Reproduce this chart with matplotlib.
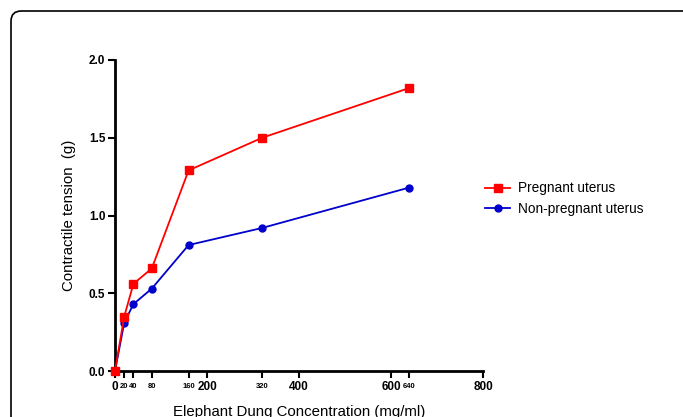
import matplotlib
matplotlib.use("Agg")
import matplotlib.pyplot as plt
from matplotlib.patches import FancyBboxPatch

plt.rcParams['font.family'] = ['Liberation Sans', 'DejaVu Sans']

conc = [0, 20, 40, 80, 160, 320, 640]
pregnant = [0.0, 0.35, 0.56, 0.66, 1.29, 1.50, 1.82]
non_pregnant = [0.0, 0.31, 0.43, 0.53, 0.81, 0.92, 1.18]
major_x = [0, 200, 400, 600, 800]
minor_x = [20, 40, 80, 160, 320, 640]
y_ticks = [0.0, 0.5, 1.0, 1.5, 2.0]

fig = plt.figure(figsize=(6.83, 4.17), dpi=100)
border = FancyBboxPatch((11/683, -0.2), 1.2, 1 - 11/417 + 0.2,
                        boxstyle="round,pad=0,rounding_size=0.015",
                        transform=fig.transFigure, fill=False,
                        edgecolor='black', linewidth=1.2, mutation_aspect=683/417)
fig.patches.append(border)

ax = fig.add_axes([115/683, 1 - 371/417, (483 - 115)/683, (371 - 60)/417])

ax.plot(conc, pregnant, color='#ff0000', marker='s', markersize=6, linewidth=1.3,
        label='Pregnant uterus', clip_on=False, zorder=4)
ax.plot(conc, non_pregnant, color='#0000cc', marker='o', markersize=5, linewidth=1.3,
        label='Non-pregnant uterus', clip_on=False, zorder=3)

ax.set_xlim(0, 800)
ax.set_ylim(0, 2.0)
ax.spines['top'].set_visible(False)
ax.spines['right'].set_visible(False)
for s in ['left', 'bottom']:
    ax.spines[s].set_linewidth(2)

ax.set_xticks(major_x)
ax.set_xticklabels([str(v) for v in major_x], fontsize=8.5, fontweight='bold')
ax.set_xticks(minor_x, minor=True)
ax.set_xticklabels([str(v) for v in minor_x], minor=True, fontsize=5.5, fontweight='bold')
ax.set_yticks(y_ticks)
ax.set_yticklabels([f"{v:.1f}" for v in y_ticks], fontsize=8.5, fontweight='bold')
ax.tick_params(axis='both', which='both', length=5, width=1.5, pad=2)
ax.tick_params(axis='x', which='minor', pad=3.5)

ax.set_ylabel('Contractile tension  (g)', fontsize=10.8, labelpad=9)
ax.set_xlabel('Elephant Dung Concentration (mg/ml)', fontsize=10.8, labelpad=9)

fig.legend(loc='upper left', bbox_to_anchor=(480/683, 1 - 176/417), frameon=False,
           fontsize=9.8, handlelength=1.8, labelspacing=0.5, handletextpad=0.6,
           borderaxespad=0)

fig.savefig('out.png', dpi=100)
